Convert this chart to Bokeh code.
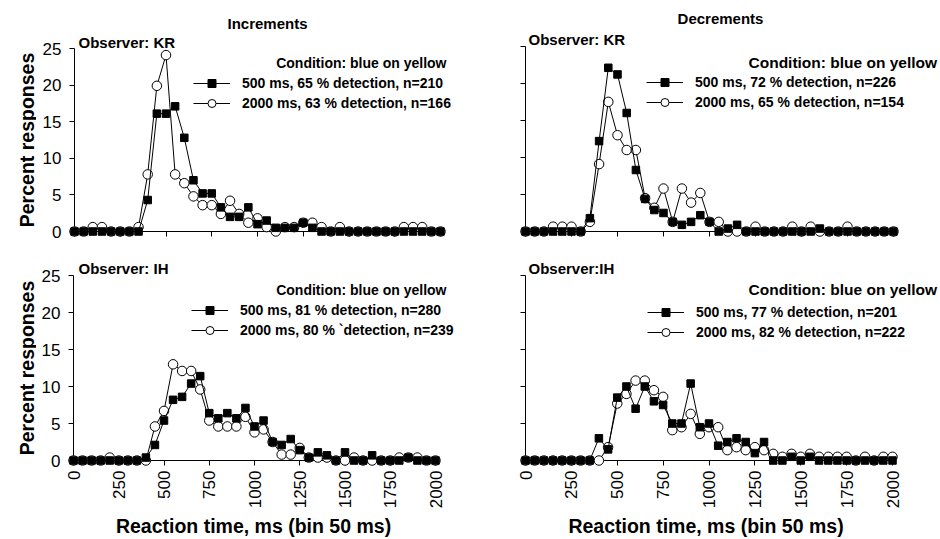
import math
from bokeh.plotting import figure
from bokeh.models import Range1d, Label, Legend, LegendItem, FixedTicker
from bokeh.layouts import column, row
from bokeh.embed import file_html
from bokeh.resources import INLINE

# ---------------- data ----------------
bins_ms = list(range(0, 2001, 50))
x_ticks = list(range(0, 2001, 250))
y_ticks = [0, 5, 10, 15, 20, 25]

inc_kr_500 = [0, 0, 0, 0, 0, 0, 0, 0, 4.3, 16.1, 16.1, 17.1, 12.8, 7.0, 5.2, 5.2, 3.3, 2.0, 2.0, 3.3,
              1.0, 1.5, 0.5, 0.5, 0.5, 1.2, 0.5, 0, 0, 0, 0, 0, 0, 0, 0, 0, 0, 0, 0, 0, 0]
inc_kr_2000 = [0, 0, 0.6, 0.6, 0, 0, 0, 0.6, 7.8, 19.9, 24.1, 7.8, 6.6, 4.8, 3.6, 3.6, 2.4, 4.2, 2.4, 1.2,
               1.8, 0.6, 0, 0.6, 0.6, 1.2, 1.2, 0.6, 0, 0.6, 0, 0, 0, 0, 0, 0, 0.6, 0.6, 0.6, 0, 0]
dec_kr_500 = [0, 0, 0, 0, 0, 0, 0, 1.8, 12.2, 22.1, 21.2, 16.0, 8.3, 4.4, 2.9, 2.5, 1.3, 0.9, 1.3, 2.2,
              1.3, 0, 0.4, 0.9, 0, 0, 0, 0, 0, 0, 0, 0, 0.4, 0, 0, 0, 0, 0, 0, 0, 0]
dec_kr_2000 = [0, 0, 0, 0.65, 0.65, 0.65, 0, 1.3, 9.1, 17.5, 13.0, 11.0, 11.0, 4.5, 3.2, 5.8, 1.3, 5.8, 3.9, 5.2,
               1.3, 1.3, 0, 0, 0, 0.65, 0, 0, 0, 0.65, 0, 0.65, 0, 0, 0, 0.65, 0, 0, 0, 0, 0]
inc_ih_500 = [0, 0, 0, 0, 0, 0, 0, 0, 0.4, 2.1, 5.4, 8.2, 8.6, 10.4, 11.4, 6.4, 5.7, 6.4, 5.7, 7.1,
              4.6, 5.4, 2.5, 2.1, 2.9, 1.4, 0.4, 1.1, 0.7, 0, 1.1, 0, 0, 0.7, 0, 0, 0, 0.4, 0, 0, 0]
inc_ih_2000 = [0, 0, 0, 0, 0.4, 0, 0, 0, 0, 4.6, 6.7, 13.0, 12.1, 12.1, 9.6, 5.4, 4.6, 4.6, 4.6, 5.9,
               3.8, 4.2, 2.5, 0.8, 0.8, 1.7, 0.4, 0.4, 0.4, 0, 0, 0.4, 0, 0, 0, 0, 0.4, 0.4, 0.4, 0, 0]
dec_ih_500 = [0, 0, 0, 0, 0, 0, 0, 0, 3.0, 1.5, 8.5, 10.0, 7.0, 10.0, 8.0, 7.5, 5.0, 5.0, 10.4, 4.5,
              5.0, 2.0, 2.5, 3.0, 2.5, 1.0, 2.5, 0, 0, 0.5, 0, 0.5, 0, 0, 0, 0, 0, 0, 0, 0, 0]
dec_ih_2000 = [0, 0, 0, 0, 0, 0, 0, 0, 0, 1.8, 7.7, 9.0, 10.8, 10.8, 9.5, 8.6, 4.1, 4.5, 6.3, 3.6,
               4.5, 4.5, 1.4, 1.8, 1.4, 1.8, 1.4, 0.9, 0.5, 0.9, 0.5, 0.9, 0.5, 0.5, 0.5, 0.5, 0, 0.5, 0, 0.5, 0.5]

column_titles = ["Increments", "Decrements"]
observers = ["Observer: KR", "Observer: KR", "Observer: IH", "Observer:IH"]
condition = "Condition: blue on yellow"
legend_labels = [
    ["500 ms, 65 % detection, n=210", "2000 ms, 63 % detection, n=166"],
    ["500 ms, 72 % detection, n=226", "2000 ms, 65 % detection, n=154"],
    ["500 ms, 81 % detection, n=280", "2000 ms, 80 % `detection, n=239"],
    ["500 ms, 77 % detection, n=201", "2000 ms, 82 % detection, n=222"],
]
y_label = "Percent responses"
x_label = "Reaction time, ms (bin 50 ms)"

FONT = "Liberation Sans"
X_MAX, Y_MAX = 2000, 25
AXIS_LABEL_SIZE = "19.5px"


class Panel:
    """geom: pixel positions (local canvas) of x=0, x=2000, y=0, y=25."""

    def __init__(self, w, h, geom, series_a, series_b, show_ylab, show_xlab):
        x0, x1, y0, y1 = geom
        self.geom = geom
        sx = (x1 - x0) / X_MAX
        sy = (y0 - y1) / Y_MAX
        p = figure(width=w, height=h,
                   x_range=Range1d(0, (w - x0) / sx), y_range=Range1d(0, y0 / sy),
                   output_backend="svg", toolbar_location=None,
                   min_border_left=x0, min_border_right=0, min_border_top=0,
                   min_border_bottom=h - y0)
        p.grid.visible = False
        p.outline_line_color = None
        p.background_fill_color = "white"
        p.border_fill_color = "white"
        for ax in (p.xaxis[0], p.yaxis[0]):
            ax.axis_line_color = "black"
            ax.axis_line_width = 1
            ax.major_tick_line_color = "black"
            ax.major_tick_in = 0
            ax.major_tick_out = 5
            ax.minor_tick_line_color = None
            ax.major_label_text_font = FONT
            ax.major_label_text_font_size = "17px"
            ax.major_label_text_color = "black"
        p.xaxis.bounds = (0, X_MAX)
        p.yaxis.bounds = (0, Y_MAX)
        p.xaxis.ticker = FixedTicker(ticks=x_ticks)
        p.yaxis.ticker = FixedTicker(ticks=y_ticks)
        p.yaxis.major_label_standoff = 8
        p.xaxis.major_label_standoff = 5
        if not show_ylab:
            p.yaxis.major_label_overrides = {t: "" for t in y_ticks}
        if show_xlab:
            p.xaxis.major_label_orientation = math.pi / 2
        else:
            p.xaxis.major_label_overrides = {t: "" for t in x_ticks}

        lb = p.line(bins_ms, series_b, line_color="black", line_width=1, level="overlay")
        sb = p.scatter(bins_ms, series_b, marker="circle", size=9.5, fill_color="white",
                       line_color="black", line_width=1, level="overlay")
        la = p.line(bins_ms, series_a, line_color="black", line_width=1, level="overlay")
        sa = p.scatter(bins_ms, series_a, marker="square", size=7.5, fill_color="black",
                       line_color="black", level="overlay")
        self.p, self.ra, self.rb = p, (la, sa), (lb, sb)
        self.sx, self.sy = sx, sy

    def text(self, px, py, txt, size="14px", align="left"):
        x0, x1, y0, y1 = self.geom
        self.p.add_layout(Label(x=(px - x0) / self.sx, y=(y0 - py) / self.sy, text=txt,
                                text_align=align, text_baseline="middle",
                                text_font=FONT, text_font_size=size, text_font_style="bold",
                                text_color="black"))

    def legend(self, gx, top_py, labels):
        x0, x1, y0, y1 = self.geom
        leg = Legend(items=[LegendItem(label=labels[0], renderers=list(self.ra)),
                            LegendItem(label=labels[1], renderers=list(self.rb))],
                     location=(gx - x0, y0 - (top_py + 40)),
                     glyph_width=37, glyph_height=20, label_height=20, label_standoff=12,
                     spacing=0, padding=0, margin=0,
                     border_line_color=None, background_fill_color=None,
                     label_text_font=FONT, label_text_font_style="bold",
                     label_text_font_size="14px", label_text_color="black")
        self.p.add_layout(leg)


def text_strip(w, h):
    s = figure(width=w, height=h, x_range=Range1d(0, w), y_range=Range1d(0, h),
               x_axis_location=None, y_axis_location=None, min_border=0,
               output_backend="svg", toolbar_location=None)
    s.grid.visible = False
    s.outline_line_color = None
    return s


STRIP_W, STRIP_H = 36, 28
TOP_H, BOT_H = 255, 256
LW, RW = 470 - STRIP_W, 470

# pixel geometry (local canvas): x=0, x=2000, y=0, y=25
tl = Panel(LW, TOP_H, (74 - STRIP_W, 440 - STRIP_W, 231, 48), inc_kr_500, inc_kr_2000, True, False)
tr = Panel(RW, TOP_H, (55, 423, 232, 46), dec_kr_500, dec_kr_2000, False, False)
bl = Panel(LW, BOT_H, (73 - STRIP_W, 435 - STRIP_W, 205, 20), inc_ih_500, inc_ih_2000, True, True)
br = Panel(RW, BOT_H, (55, 422, 205, 20), dec_ih_500, dec_ih_2000, False, True)

tl.text(267 - STRIP_W, 23, column_titles[0], size="15px", align="center")
tl.text(78 - STRIP_W, 42, observers[0], size="15px")
tl.text(446 - STRIP_W, 62, condition, align="right")
tl.legend(193 - STRIP_W, 73, legend_labels[0])

tr.text(250, 18, column_titles[1], size="15px", align="center")
tr.text(58, 39, observers[1], size="15px")
tr.text(278, 62, condition, size="15.5px")
tr.legend(176, 73, legend_labels[1])

bl.text(78 - STRIP_W, 13, observers[2], size="15px")
bl.text(446 - STRIP_W, 34, condition, align="right")
bl.legend(191 - STRIP_W, 45, legend_labels[2])

br.text(58, 13, observers[3], size="15px")
br.text(278, 34, condition, size="15.5px")
br.legend(177, 47, legend_labels[3])

# y-axis titles (left strip), centred on each panel's axis
grid_h = TOP_H + BOT_H
ystrip = text_strip(STRIP_W, grid_h)
for cy in ((231 + 48) / 2, TOP_H + (205 + 20) / 2):
    ystrip.add_layout(Label(x=26, y=grid_h - cy, text=y_label, angle=math.pi / 2,
                            text_align="center", text_baseline="middle", text_font=FONT,
                            text_font_size=AXIS_LABEL_SIZE, text_font_style="bold",
                            text_color="black"))

# x-axis titles (bottom strip), centred on each panel's axis
xstrip = text_strip(940, STRIP_H)
for cx in ((73 + 435) / 2 - 1, 470 + (55 + 422) / 2 - 3):
    xstrip.add_layout(Label(x=cx, y=STRIP_H - 14, text=x_label,
                            text_align="center", text_baseline="middle", text_font=FONT,
                            text_font_size=AXIS_LABEL_SIZE, text_font_style="bold",
                            text_color="black"))

grid = column(row(tl.p, tr.p), row(bl.p, br.p))
layout = column(row(ystrip, grid), xstrip)
open("out.html", "w").write(file_html(layout, INLINE))
